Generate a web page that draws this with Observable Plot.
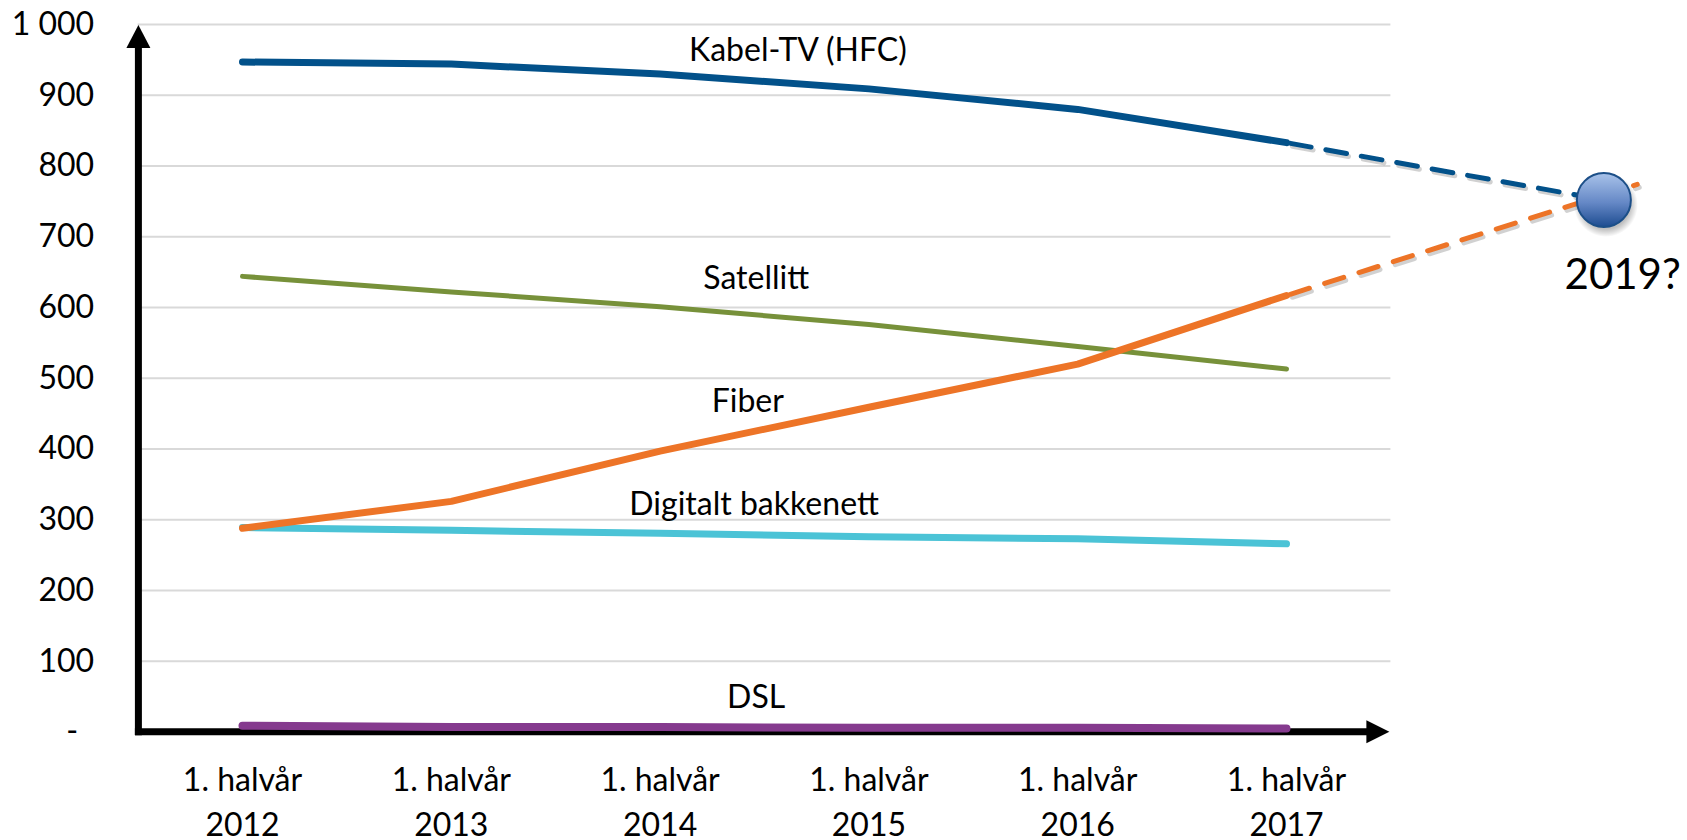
<!DOCTYPE html>
<html><head><meta charset="utf-8">
<script src="https://cdn.jsdelivr.net/npm/d3@7"></script>
<script src="https://cdn.jsdelivr.net/npm/@observablehq/plot@0.6"></script>
<style>body{margin:0;background:#fff;}</style>
</head><body><div id="chart"></div>
<script>
// ---- data ----
const categories = ["1. halvår\n2012", "1. halvår\n2013", "1. halvår\n2014", "1. halvår\n2015", "1. halvår\n2016", "1. halvår\n2017"];
const kabelTV   = [947, 944, 930, 909, 880, 833];
const satellitt = [644, 622, 601, 576, 545, 513];
const fiber     = [288, 326, 397, 459, 520, 617];
const digitalt  = [289, 285, 281, 276, 273, 266];
const dsl       = [9, 7, 7, 6, 6, 5];
const yTicks = [0, 100, 200, 300, 400, 500, 600, 700, 800, 900, 1000];

// projection towards 2019
const kabelProjX = [5, 6.52], kabelProjY = [833, 752];
const fiberProjX = [5, 6.68], fiberProjY = [617, 774];
const ball = [{x: 6.52, y: 752, label: "2019?", lx: 6.61, ly: 645}];

// series labels (x as category index, y as value)
const seriesLabels = [
  {text: "Kabel-TV (HFC)", x: 2.66, y: 963},
  {text: "Satellitt", x: 2.46, y: 641},
  {text: "Fiber", x: 2.42, y: 467},
  {text: "Digitalt bakkenett", x: 2.45, y: 321},
  {text: "DSL", x: 2.46, y: 49}
];

const colors = {kabel: "#02518a", sat: "#77913a", fiber: "#ed7427", dig: "#4bc3d6", dsl: "#853a8e"};
const font = "Lato, 'Open Sans', sans-serif";
const idx = categories.map((d, i) => i);
const fmt = d3.formatLocale({thousands: " ", grouping: [3], decimal: ","}).format(",");

function defsMark() {
  const s = d3.create("svg:defs");
  const g = s.append("linearGradient").attr("id", "ballGrad").attr("x1", 0).attr("y1", 0).attr("x2", 0).attr("y2", 1);
  g.append("stop").attr("offset", "0%").attr("stop-color", "#a9c3ea");
  g.append("stop").attr("offset", "55%").attr("stop-color", "#6588c6");
  g.append("stop").attr("offset", "100%").attr("stop-color", "#1d4c90");
  const r = s.append("radialGradient").attr("id", "shadowGrad");
  r.append("stop").attr("offset", "75%").attr("stop-color", "#000").attr("stop-opacity", 0.25);
  r.append("stop").attr("offset", "100%").attr("stop-color", "#000").attr("stop-opacity", 0);
  return s.node();
}

function axesMark(index, {x, y}) {
  const g = d3.create("svg:g");
  const x0 = x(-0.5) + 0.8, y0 = y(0) + 0.2, yTop = y(1000), xRight = x(5.5);
  g.append("line").attr("x1", x0).attr("x2", x0).attr("y1", y0 + 3.5).attr("y2", yTop + 22)
    .attr("stroke", "#000").attr("stroke-width", 7);
  g.append("path").attr("d", `M${x0},${yTop + 1}L${x0 + 12},${yTop + 24}L${x0 - 12},${yTop + 24}Z`).attr("fill", "#000");
  g.append("line").attr("x1", x0 - 3.5).attr("x2", xRight - 22).attr("y1", y0).attr("y2", y0)
    .attr("stroke", "#000").attr("stroke-width", 7);
  g.append("path").attr("d", `M${xRight - 1},${y0}L${xRight - 24},${y0 - 11.5}L${xRight - 24},${y0 + 11.5}Z`).attr("fill", "#000");
  return g.node();
}

const lineOpts = {strokeLinecap: "round", strokeLinejoin: "round"};
const fiberDash = {x: d => fiberProjX[d], y: d => fiberProjY[d], strokeWidth: 5, strokeDasharray: "20,16", strokeDashoffset: -4};
const kabelDash = {x: d => kabelProjX[d], y: d => kabelProjY[d], strokeWidth: 5, strokeDasharray: "21,15", strokeDashoffset: -4};

const chart = Plot.plot({
  width: 1687,
  height: 840,
  marginLeft: 137.6,
  marginRight: 296.6,
  marginTop: 24,
  marginBottom: 108.5,
  style: {fontFamily: font, background: "#fff", overflow: "visible"},
  x: {domain: [-0.5, 5.5], axis: null},
  y: {domain: [0, 1000], axis: null},
  marks: [
    defsMark,
    Plot.ruleY(yTicks.filter(d => d > 0), {stroke: "#d9d9d9", strokeWidth: 2}),
    Plot.axisY({ticks: yTicks, tickSize: 0, tickPadding: 44, tickFormat: d => d === 0 ? "-\u2002" : fmt(d),
      fontSize: 32, fontFamily: font, fill: "#000"}),
    axesMark,
    Plot.line(idx, {x: d => d, y: d => dsl[d], stroke: colors.dsl, strokeWidth: 8, ...lineOpts}),
    Plot.line(idx, {x: d => d, y: d => digitalt[d], stroke: colors.dig, strokeWidth: 7, ...lineOpts}),
    Plot.line(idx, {x: d => d, y: d => satellitt[d], stroke: colors.sat, strokeWidth: 5, ...lineOpts}),
    Plot.line(idx, {x: d => d, y: d => fiber[d], stroke: colors.fiber, strokeWidth: 7, ...lineOpts}),
    Plot.line(idx, {x: d => d, y: d => kabelTV[d], stroke: colors.kabel, strokeWidth: 7, ...lineOpts}),
    // shadows of the dashed projections
    Plot.line([0, 1], {...fiberDash, stroke: "#000", strokeOpacity: 0.18, dx: 2, dy: 3}),
    Plot.line([0, 1], {...kabelDash, stroke: "#000", strokeOpacity: 0.18, dx: 2, dy: 3}),
    Plot.line([0, 1], {...fiberDash, stroke: colors.fiber}),
    Plot.line([0, 1], {...kabelDash, stroke: colors.kabel}),
    Plot.dot(ball, {x: "x", y: "y", r: 32, dx: 2, dy: 5, fill: "url(#shadowGrad)", stroke: "none"}),
    Plot.dot(ball, {x: "x", y: "y", r: 27, fill: "url(#ballGrad)", stroke: "#1c4f88", strokeWidth: 2}),
    Plot.text(ball, {x: "lx", y: "ly", text: "label", fontSize: 42, fontFamily: font, fill: "#000"}),
    Plot.text(seriesLabels, {x: "x", y: "y", text: "text", fontSize: 32, fontFamily: font, fill: "#000"}),
    Plot.text(categories, {x: (d, i) => i, text: d => d, frameAnchor: "bottom", lineAnchor: "top", dy: 27,
      lineHeight: 1.4, fontSize: 32, fontFamily: font, fill: "#000"})
  ]
});
document.getElementById("chart").appendChild(chart);
</script>
</body></html>
